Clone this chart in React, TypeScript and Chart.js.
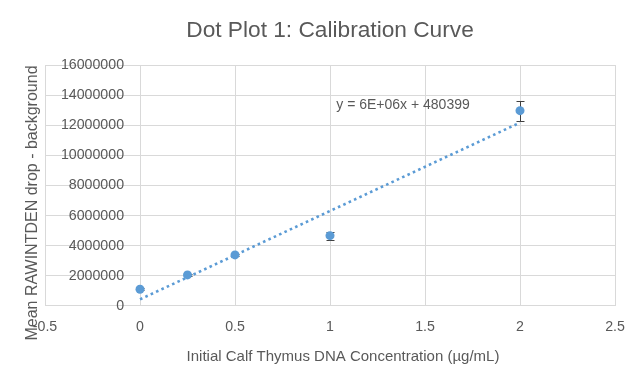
import React, { useEffect, useRef } from "react";
import { Chart, registerables } from "chart.js";

Chart.register(...registerables);

const concentrations = [0, 0.25, 0.5, 1, 2];
const meanSignal = [1110000, 2060000, 3390000, 4670000, 12970000];
const signalError = [60000, 60000, 70000, 270000, 660000];
const xTickValues = [-0.5, 0, 0.5, 1, 1.5, 2, 2.5];
const yTickValues = [0, 2000000, 4000000, 6000000, 8000000, 10000000, 12000000, 14000000, 16000000];
const chartTitle = "Dot Plot 1: Calibration Curve";
const xAxisTitle = "Initial Calf Thymus DNA Concentration (µg/mL)";
const yAxisTitle = "Mean RAWINTDEN drop - background";
const trendEquation = "y = 6E+06x + 480399";
const trendRange = [0, 2];

const FONT = "'Liberation Sans', Arial, sans-serif";
const TEXT = "#595959";
const GRID = "#D9D9D9";
const BLUE = "#5B9BD5";

function linearFit(xs: number[], ys: number[]) {
  const n = xs.length;
  const mx = xs.reduce((a, b) => a + b, 0) / n;
  const my = ys.reduce((a, b) => a + b, 0) / n;
  let sxy = 0;
  let sxx = 0;
  for (let i = 0; i < n; i++) {
    sxy += (xs[i] - mx) * (ys[i] - my);
    sxx += (xs[i] - mx) * (xs[i] - mx);
  }
  const slope = sxy / sxx;
  return { slope, intercept: my - slope * mx };
}

const annotations = {
  id: "annotations",
  beforeDatasetsDraw(chart: any) {
    const { ctx, scales } = chart;
    const x = scales.x;
    const y = scales.y;
    ctx.save();
    ctx.strokeStyle = "#404040";
    ctx.lineWidth = 1;
    concentrations.forEach((c, i) => {
      const px = Math.round(x.getPixelForValue(c)) + 0.5;
      const top = Math.round(y.getPixelForValue(meanSignal[i] + signalError[i])) + 0.5;
      const bot = Math.round(y.getPixelForValue(meanSignal[i] - signalError[i])) + 0.5;
      ctx.beginPath();
      ctx.moveTo(px, top);
      ctx.lineTo(px, bot);
      ctx.moveTo(px - 4, top);
      ctx.lineTo(px + 4, top);
      ctx.moveTo(px - 4, bot);
      ctx.lineTo(px + 4, bot);
      ctx.stroke();
    });
    ctx.restore();
  },
  afterDraw(chart: any) {
    const { ctx, chartArea: ca } = chart;
    ctx.save();
    ctx.fillStyle = TEXT;
    ctx.font = `14px ${FONT}`;
    ctx.textAlign = "left";
    ctx.textBaseline = "middle";
    ctx.fillText(
      trendEquation,
      ca.left + 0.511 * (ca.right - ca.left),
      ca.top + 0.166 * (ca.bottom - ca.top)
    );
    ctx.font = `15px ${FONT}`;
    ctx.textAlign = "center";
    ctx.fillText(xAxisTitle, 343, 357);
    ctx.font = `16px ${FONT}`;
    ctx.translate(33, 203);
    ctx.rotate(-Math.PI / 2);
    ctx.fillText(yAxisTitle, 0, 0);
    ctx.restore();
  },
};

export default function App() {
  const canvasRef = useRef<HTMLCanvasElement | null>(null);

  useEffect(() => {
    if (!canvasRef.current) return;
    const fit = linearFit(concentrations, meanSignal);
    const trendPoints = trendRange.map((v) => ({ x: v, y: fit.slope * v + fit.intercept }));
    const points = concentrations.map((c, i) => ({ x: c, y: meanSignal[i] }));

    const chart = new Chart(canvasRef.current, {
      type: "scatter",
      data: {
        datasets: [
          {
            type: "scatter",
            label: "Mean",
            data: points,
            backgroundColor: BLUE,
            borderColor: BLUE,
            borderWidth: 0,
            pointRadius: 4.5,
            order: 0,
          },
          {
            type: "line",
            label: "Trend",
            data: trendPoints,
            borderColor: BLUE,
            borderWidth: 2.6,
            borderDash: [2.6, 3.3],
            pointRadius: 0,
            fill: false,
            order: 1,
          } as any,
        ],
      },
      options: {
        responsive: false,
        animation: false,
        events: [],
        layout: { padding: { left: 45, right: 29, top: 0, bottom: 32 } },
        plugins: {
          legend: { display: false },
          tooltip: { enabled: false },
          title: {
            display: true,
            text: chartTitle,
            color: TEXT,
            font: { family: FONT, size: 22.7, weight: "normal" },
            padding: { top: 17, bottom: 20.8 },
          },
        },
        scales: {
          x: {
            type: "linear",
            position: "bottom",
            min: -0.5,
            max: 2.5,
            afterBuildTicks: (scale: any) => {
              scale.ticks = xTickValues.map((v) => ({ value: v }));
            },
            ticks: {
              autoSkip: false,
              maxRotation: 0,
              padding: 12.5,
              color: TEXT,
              font: { family: FONT, size: 14.2 },
              callback: (v: any) => String(v),
            },
            grid: { color: GRID, drawTicks: false, lineWidth: 1 },
            border: { color: GRID },
          },
          y: {
            type: "linear",
            // labels sit about 16px left of the x = 0 gridline, which serves as the axis line
            position: { x: -0.084 } as any,
            min: 0,
            max: 16000000,
            afterBuildTicks: (scale: any) => {
              scale.ticks = yTickValues.map((v) => ({ value: v }));
            },
            ticks: {
              autoSkip: false,
              padding: 0,
              color: TEXT,
              font: { family: FONT, size: 14.2 },
              callback: (v: any) => String(v),
            },
            grid: { color: GRID, drawTicks: false, lineWidth: 1 },
            border: { display: false },
          },
        },
      } as any,
      plugins: [annotations],
    });
    return () => chart.destroy();
  }, []);

  return (
    <div style={{ position: "absolute", left: 0, top: 0, width: 644, height: 380, background: "#fff" }}>
      <canvas ref={canvasRef} width={644} height={380} style={{ display: "block" }} />
    </div>
  );
}
